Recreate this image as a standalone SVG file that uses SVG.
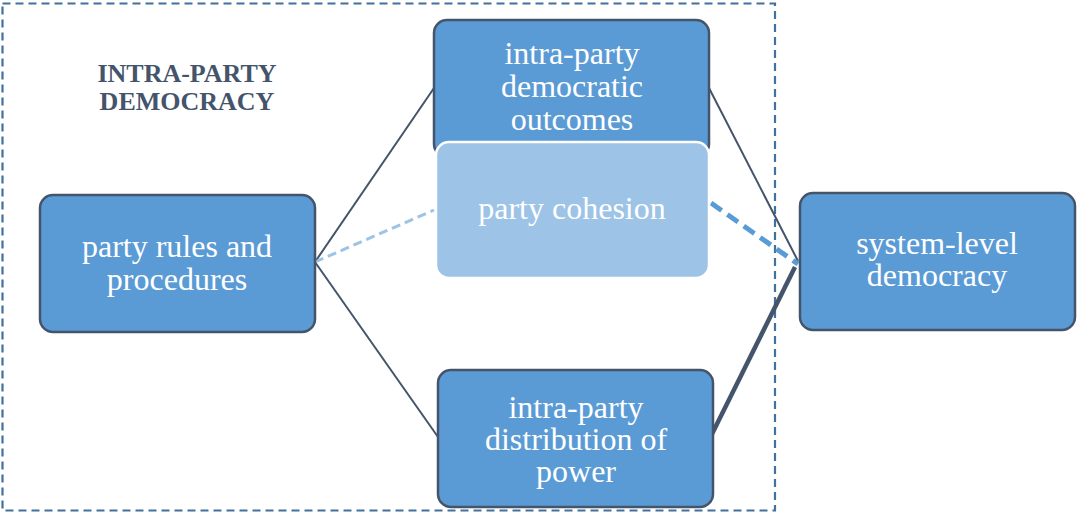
<svg xmlns="http://www.w3.org/2000/svg" width="1077" height="513" viewBox="0 0 1077 513">
<style>
.box{fill:#5b9bd5;stroke:#44546a;stroke-width:2.5}
.soft{fill:#9dc3e6;stroke:#ffffff;stroke-width:2.5}
.lbl{font-family:"Liberation Serif","Times New Roman",serif;font-size:32px;fill:#ffffff;text-anchor:middle}
.title{font-family:"Liberation Serif","Times New Roman",serif;font-size:26px;font-weight:bold;fill:#44546a;text-anchor:middle}
.ln{stroke:#44546a;stroke-width:2;fill:none}
</style>
<rect width="1077" height="513" fill="#ffffff"/>
<g id="frame">
<rect x="2.5" y="3.5" width="772.5" height="507" fill="none" stroke="#41719c" stroke-width="2.2" stroke-dasharray="8,5"/>
<text class="title" x="187" y="82">INTRA-PARTY</text>
<text class="title" x="187" y="110">DEMOCRACY</text>
</g>
<g id="connectors">
<line class="ln" x1="315" y1="262" x2="434" y2="88"/>
<line class="ln" x1="315" y1="262" x2="438" y2="437"/>
<line x1="315" y1="262" x2="434" y2="210" stroke="#9dc3e6" stroke-width="3" stroke-dasharray="9,5"/>
<line class="ln" x1="709" y1="88" x2="798" y2="261"/>
<line x1="711" y1="203" x2="798" y2="264" stroke="#5b9bd5" stroke-width="5" stroke-dasharray="13,7"/>
<line x1="795" y1="267" x2="710" y2="438" stroke="#44546a" stroke-width="4.5"/>
</g>
<g id="rules">
<rect class="box" x="40" y="195" width="275" height="137" rx="13"/>
<text class="lbl" x="177" y="257">party rules and</text>
<text class="lbl" x="177" y="290">procedures</text>
</g>
<g id="outcomes">
<rect class="box" x="434" y="20" width="275" height="137" rx="13"/>
<text class="lbl" x="572" y="64">intra-party</text>
<text class="lbl" x="572" y="97">democratic</text>
<text class="lbl" x="572" y="130">outcomes</text>
</g>
<g id="cohesion">
<rect class="soft" x="436" y="142" width="273" height="136" rx="13"/>
<text class="lbl" x="572" y="219">party cohesion</text>
</g>
<g id="distribution">
<rect class="box" x="438" y="370" width="275" height="137" rx="13"/>
<text class="lbl" x="576" y="418">intra-party</text>
<text class="lbl" x="576" y="450">distribution of</text>
<text class="lbl" x="576" y="482">power</text>
</g>
<g id="system">
<rect class="box" x="800" y="193" width="275" height="137" rx="13"/>
<text class="lbl" x="937" y="254">system-level</text>
<text class="lbl" x="937" y="286">democracy</text>
</g>
</svg>
